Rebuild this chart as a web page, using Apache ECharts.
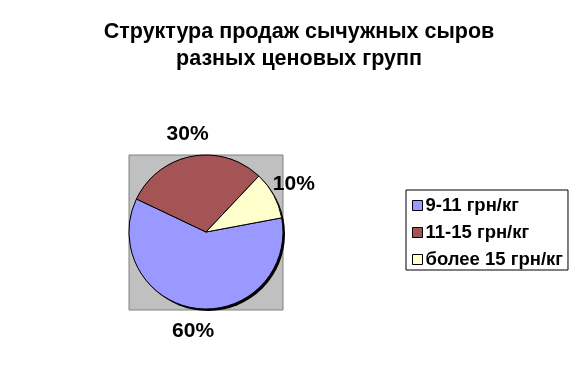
<!DOCTYPE html>
<html><head><meta charset="utf-8">
<script src="https://cdn.jsdelivr.net/npm/echarts@6/dist/echarts.min.js"></script>
<style>html,body{margin:0;padding:0;background:#fff}#c{width:576px;height:384px}</style>
</head><body><div id="c"></div>
<script>
const titleLines = ['Структура продаж сычужных сыров', 'разных ценовых групп'];
const categories = ['9-11 грн/кг', '11-15 грн/кг', 'более 15 грн/кг'];
const values = [60, 30, 10];
const colors = ['#9999FF', '#A45454', '#FFFFCC'];

const chart = echarts.init(document.getElementById('c'), null, {renderer: 'canvas'});
const font = 'Liberation Sans, Arial, sans-serif';
const pieCenter = [206, 232];
const pieRadius = 77;
chart.setOption({
  animation: false,
  backgroundColor: '#fff',
  tooltip: {show: false},
  title: {
    text: titleLines.join('\n'),
    left: 294, top: 14, textAlign: 'center',
    textStyle: {fontFamily: font, fontWeight: 'bold', fontSize: 21.5, lineHeight: 27, color: '#000'}
  },
  graphic: [{
    type: 'rect', z: 0, silent: true,
    shape: {x: 129, y: 155, width: 154, height: 155},
    style: {fill: '#C0C0C0', stroke: '#808080', lineWidth: 1}
  }],
  legend: {
    orient: 'vertical', left: 406, top: 190,
    data: categories,
    icon: 'rect', itemWidth: 10, itemHeight: 10, itemGap: 8,
    padding: [6, 5, 1, 6],
    borderColor: '#000', borderWidth: 1, backgroundColor: '#fff',
    textStyle: {fontFamily: font, fontWeight: 'bold', fontSize: 18.5, lineHeight: 19, color: '#000', padding: [0, 0, 0, -2]},
    itemStyle: {borderColor: '#000', borderWidth: 1}
  },
  series: [{
    // shadow disk under the pie
    type: 'pie', z: 1, silent: true, legendHoverLink: false,
    center: pieCenter, radius: pieRadius,
    data: [{name: '_shadow', value: 1}],
    itemStyle: {color: '#000', shadowColor: '#000', shadowBlur: 0, shadowOffsetX: 2, shadowOffsetY: 2},
    label: {show: false}, labelLine: {show: false},
    emphasis: {disabled: true}
  }, {
    type: 'pie', z: 2,
    center: pieCenter, radius: pieRadius,
    startAngle: 10.6, clockwise: true,
    data: categories.map((n, i) => ({name: n, value: values[i], itemStyle: {color: colors[i]}})),
    itemStyle: {borderColor: '#000', borderWidth: 1},
    label: {show: false}, labelLine: {show: false},
    emphasis: {disabled: true}
  }, {
    // transparent ring carrying the percentage labels outside the pie
    type: 'pie', z: 3, silent: true, legendHoverLink: false,
    center: pieCenter, radius: [79, 115],
    startAngle: 10.6, clockwise: true,
    data: categories.map((n, i) => ({name: n, value: values[i]})),
    itemStyle: {color: 'rgba(0,0,0,0)', borderWidth: 0},
    label: {
      show: true, position: 'inside', formatter: '{d}%',
      fontFamily: font, fontWeight: 'bold', fontSize: 21, color: '#000',
      textBorderWidth: 0
    },
    labelLine: {show: false},
    emphasis: {disabled: true}
  }]
});
</script></body></html>
